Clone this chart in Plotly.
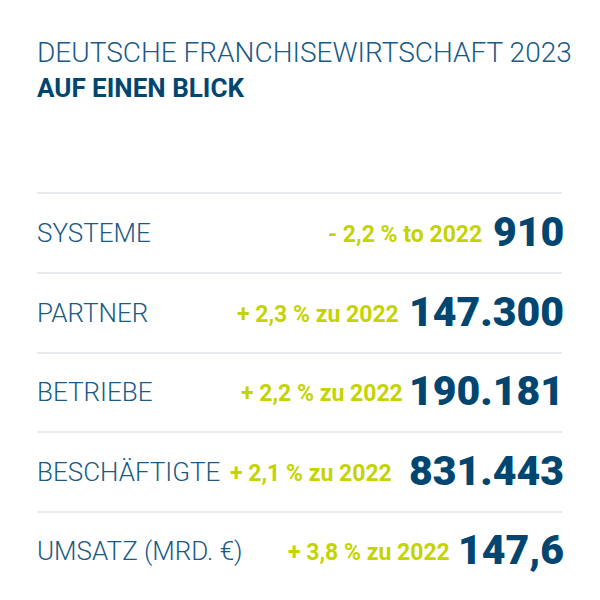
import plotly.graph_objects as go

# data
title_line1 = "DEUTSCHE FRANCHISEWIRTSCHAFT 2023"
title_line2 = "AUF EINEN BLICK"
categories = ["SYSTEME", "PARTNER", "BETRIEBE", "BESCHÄFTIGTE", "UMSATZ (MRD. €)"]
values = ["910", "147.300", "190.181", "831.443", "147,6"]
changes = ["- 2,2", "+ 2,3", "+ 2,2", "+ 2,1", "+ 3,8"]
compare_words = ["to", "zu", "zu", "zu", "zu"]
compare_year = 2022

# layout positions (pixel space of the page)
row_y = [233, 313, 392, 472, 551]
line_y = [193, 273, 353, 432, 512]
change_right = [484, 401, 405, 394, 452]

DARK = "#004670"
LABEL = "#1a5a84"
GREEN = "#c3d400"

fig = go.Figure()

for y in line_y:
    fig.add_shape(type="line", x0=37, x1=562, y0=y, y1=y, xref="x", yref="y",
                  line=dict(color="#e7ebee", width=2))

fig.add_annotation(x=35, y=52, text=title_line1, showarrow=False, xanchor="left",
                   yanchor="middle", font=dict(family="Roboto", size=28, color=LABEL, weight=300))
fig.add_annotation(x=35, y=88, text="<b>" + title_line2 + "</b>", showarrow=False, xanchor="left",
                   yanchor="middle", font=dict(family="Roboto", size=26, color=DARK))

for i, cat in enumerate(categories):
    fig.add_annotation(x=35, y=row_y[i], text=cat, showarrow=False, xanchor="left",
                       yanchor="middle", font=dict(family="Roboto", size=26, color=LABEL, weight=300))
    fig.add_annotation(x=change_right[i], y=row_y[i] + 1,
                       text="%s %% %s %d" % (changes[i], compare_words[i], compare_year),
                       showarrow=False, xanchor="right", yanchor="middle",
                       font=dict(family="Roboto", size=23, color=GREEN, weight=700))
    fig.add_annotation(x=566, y=row_y[i] - 1, text=values[i], showarrow=False, xanchor="right",
                       yanchor="middle", font=dict(family="Roboto", size=41, color=DARK, weight=900))

# page body has an 8px margin, so shift the axes to keep page pixel coordinates
fig.update_xaxes(range=[8, 608], visible=False, fixedrange=True)
fig.update_yaxes(range=[608, 8], visible=False, fixedrange=True)
fig.update_layout(width=600, height=600, margin=dict(l=0, r=0, t=0, b=0),
                  plot_bgcolor="white", paper_bgcolor="white", showlegend=False)

fig.write_html("out.html")
